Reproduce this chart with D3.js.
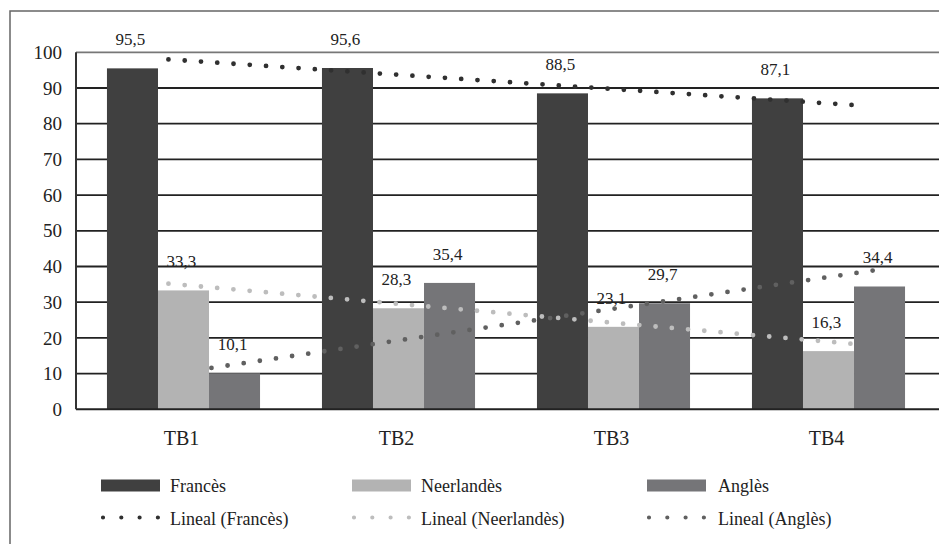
<!DOCTYPE html>
<html>
<head>
<meta charset="utf-8">
<script src="https://cdn.jsdelivr.net/npm/d3@7"></script>
<style>
  body { margin: 0; background: #fff; }
  svg text { font-family: 'Liberation Serif', 'Times New Roman', Times, 'DejaVu Serif', serif; }
  .grid line { stroke: #222; stroke-width: 1.8; }
  .ytick { font-size: 19px; fill: #222; }
  .xtick { font-size: 20px; fill: #222; }
  .val { font-size: 17px; fill: #222; }
  .leg { font-size: 18px; fill: #222; }
</style>
</head>
<body>
<div id="chart"></div>
<script>
// data
const categories = ['TB1', 'TB2', 'TB3', 'TB4'];
const seriesNames = ['Francès', 'Neerlandès', 'Anglès'];
const frances = [95.5, 95.6, 88.5, 87.1];
const neerlandes = [33.3, 28.3, 23.1, 16.3];
const angles = [10.1, 35.4, 29.7, 34.4];
const yTicks = [0, 10, 20, 30, 40, 50, 60, 70, 80, 90, 100];
// trend line ends as [category index, value]
const trendFrances = [[-0.07, 98.0], [3.12, 85.2]];
const trendNeerlandes = [[-0.07, 35.2], [3.12, 18.3]];
const trendAngles = [[0.13, 11.6], [3.21, 38.9]];

const colors = ['#404040', '#b3b3b3', '#757578'];
const trendColors = ['#303030', '#bdbdbd', '#606060'];

const W = 939, H = 544;
let svg = d3.select('#chart').append('svg')
    .attr('width', W)
    .attr('height', H)
    .attr('font-family', "'Liberation Serif', 'Times New Roman', serif");

// outer frame
svg.append('rect')
    .attr('x', 10).attr('y', 11)
    .attr('width', 1000).attr('height', 600)
    .attr('fill', 'none')
    .attr('stroke', '#666')
    .attr('stroke-width', 1.5);

let x0 = d3.scaleBand().domain(categories).range([76, 936])
    .paddingInner(0.288).paddingOuter(0.144);
let x1 = d3.scaleBand().domain(seriesNames).range([0, x0.bandwidth()]);
let y = d3.scaleLinear().domain([0, 100]).range([409.3, 52.3]);

// gridlines
let grid = svg.append('g').attr('class', 'grid');
grid.selectAll('line').data(yTicks.filter(d => d > 0))
    .join('line')
    .attr('x1', 76).attr('x2', W)
    .attr('y1', d => y(d)).attr('y2', d => y(d))
    .style('stroke', d => d === 100 ? '#777' : null);

// y labels
svg.selectAll('text.ytick').data(yTicks)
    .join('text')
    .attr('class', 'ytick')
    .attr('x', 62)
    .attr('y', d => y(d))
    .attr('dy', '0.35em')
    .attr('text-anchor', 'end')
    .text(d => d);

// bars
let table = categories.map((c, i) => ({
    cat: c,
    vals: [frances[i], neerlandes[i], angles[i]].map((v, j) => ({ s: seriesNames[j], v: v, j: j }))
}));

let groups = svg.selectAll('g.cat').data(table)
    .join('g')
    .attr('class', 'cat')
    .attr('transform', d => `translate(${x0(d.cat)},0)`);

groups.selectAll('rect').data(d => d.vals)
    .join('rect')
    .attr('x', d => x1(d.s))
    .attr('y', d => y(d.v))
    .attr('width', x1.bandwidth())
    .attr('height', d => y(0) - y(d.v))
    .attr('fill', d => colors[d.j]);

groups.selectAll('text.val').data(d => d.vals)
    .join('text')
    .attr('class', 'val')
    .attr('x', d => x1(d.s) + x1.bandwidth() / 2 - 2)
    .attr('y', d => y(d.v) - 23)
    .attr('text-anchor', 'middle')
    .text(d => d.v.toFixed(1).replace('.', ','));

// axes lines
svg.append('line')
    .attr('x1', 76).attr('x2', W)
    .attr('y1', y(0)).attr('y2', y(0))
    .attr('stroke', '#222').attr('stroke-width', 2);
svg.append('line')
    .attr('x1', 76).attr('x2', 76)
    .attr('y1', y(100)).attr('y2', y(0))
    .attr('stroke', '#333').attr('stroke-width', 2);

// category labels
svg.selectAll('text.xtick').data(categories)
    .join('text')
    .attr('class', 'xtick')
    .attr('x', d => x0(d) + x0.bandwidth() / 2 - 2)
    .attr('y', 445)
    .attr('text-anchor', 'middle')
    .text(d => d);

// trend lines
let catX = i => x0(categories[0]) + x0.bandwidth() / 2 + i * x0.step();
let line = d3.line().x(d => catX(d[0])).y(d => y(d[1]));
[trendFrances, trendNeerlandes, trendAngles].forEach((t, j) => {
    svg.append('path')
        .datum(t)
        .attr('d', line)
        .attr('fill', 'none')
        .attr('stroke', trendColors[j])
        .attr('stroke-width', 4.8)
        .attr('stroke-linecap', 'round')
        .attr('stroke-dasharray', '0 16.3');
});

// legend
let legX = [101, 352, 647];
let legTextX = [170, 421, 718];
let leg = svg.append('g');
seriesNames.forEach((s, j) => {
    leg.append('rect')
        .attr('x', legX[j]).attr('y', 479.5)
        .attr('width', 59).attr('height', 12)
        .attr('fill', colors[j]);
    leg.append('text')
        .attr('class', 'leg')
        .attr('x', legTextX[j]).attr('y', 492)
        .text(s);
    leg.append('line')
        .attr('x1', legX[j] + 2).attr('x2', legX[j] + 58)
        .attr('y1', 517.5).attr('y2', 517.5)
        .attr('stroke', trendColors[j])
        .attr('stroke-width', 4.2)
        .attr('stroke-linecap', 'round')
        .attr('stroke-dasharray', '0 18.3');
    leg.append('text')
        .attr('class', 'leg')
        .attr('x', legTextX[j]).attr('y', 525)
        .text(`Lineal (${s})`);
});
</script>
</body>
</html>
